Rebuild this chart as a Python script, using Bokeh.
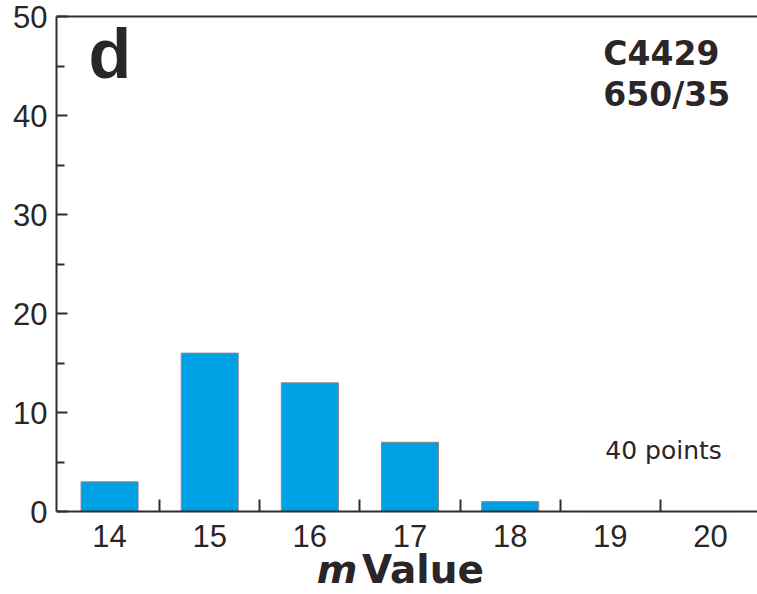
from bokeh.plotting import figure
from bokeh.models import Range1d, FixedTicker, LinearAxis, Label
from bokeh.embed import file_html
from bokeh.resources import INLINE

# data
m_values = [14, 15, 16, 17, 18, 19, 20]
counts = [3, 16, 13, 7, 1, 0, 0]
y_ticks = [0, 10, 20, 30, 40, 50]
y_minor = [5, 15, 25, 35, 45]
x_bounds = [14.5, 15.5, 16.5, 17.5, 18.5, 19.5]
panel_letter = "d"
sample_lines = ["C4429", "650/35"]
n_points_text = "40 points"
x_title_italic = "m"
x_title_rest = "Value"

TXT = "#2a2627"
AX = "#2f2f2f"

p = figure(width=757, height=594, output_backend="svg", toolbar_location=None,
           x_range=Range1d(13.47, 20.47), y_range=Range1d(-8.38, 50),
           min_border_left=56, min_border_right=0, min_border_top=16, min_border_bottom=0)
p.outline_line_color = None
p.grid.grid_line_color = None
p.background_fill_color = "white"
p.border_fill_color = "white"

p.vbar(x=m_values, top=counts, width=0.57, bottom=0,
       fill_color="#00A1E4", line_color="#8a8a8a", line_width=1)

# x axis (drawn at y = 0 inside the frame)
xa = p.xaxis[0]
xa.fixed_location = 0
xa.ticker = FixedTicker(ticks=m_values, minor_ticks=x_bounds)
xa.major_tick_in = 0
xa.major_tick_out = 0
xa.minor_tick_in = 12
xa.minor_tick_out = 0
xa.minor_tick_line_color = AX
xa.minor_tick_line_width = 2
xa.axis_line_color = AX
xa.axis_line_width = 2
xa.major_label_text_font = "Liberation Sans"
xa.major_label_text_font_size = "31px"
xa.major_label_text_color = TXT
xa.major_label_standoff = 13

# y axis
ya = p.yaxis[0]
ya.bounds = (0, 50)
ya.ticker = FixedTicker(ticks=y_ticks, minor_ticks=y_minor)
ya.major_tick_in = 11
ya.major_tick_out = 0
ya.minor_tick_in = 8
ya.minor_tick_out = 0
ya.major_tick_line_color = AX
ya.minor_tick_line_color = AX
ya.major_tick_line_width = 2
ya.minor_tick_line_width = 2
ya.axis_line_color = AX
ya.axis_line_width = 2
ya.major_label_text_font = "Liberation Sans"
ya.major_label_text_font_size = "31px"
ya.major_label_text_color = TXT
ya.major_label_standoff = 9

# top border line
top = LinearAxis(ticker=FixedTicker(ticks=[]), major_tick_out=0, major_tick_in=0,
                 minor_tick_out=0, minor_tick_in=0, axis_line_color=AX, axis_line_width=2)
p.add_layout(top, "above")

# annotations
def lab(x, y, text, font, size, style="normal", baseline="alphabetic"):
    p.add_layout(Label(x=x, y=y, text=text, text_font=font, text_font_style=style,
                       text_font_size=size, text_color=TXT,
                       text_baseline=baseline, text_align="left"))

lab(13.79, 46.26, panel_letter, "Liberation Sans", "70px", "bold")
lab(18.93, 46.26, sample_lines[0], "DejaVu Sans", "33px", "bold")
lab(18.93, 42.12, sample_lines[1], "DejaVu Sans", "33px", "bold")
lab(18.95, 6.16, n_points_text, "DejaVu Sans", "25px")
lab(16.07, -5.85, x_title_italic, "DejaVu Sans", "39px", "bold italic", "middle")
lab(16.52, -5.85, x_title_rest, "DejaVu Sans", "39px", "bold", "middle")

open("out.html", "w").write(file_html(p, INLINE))
